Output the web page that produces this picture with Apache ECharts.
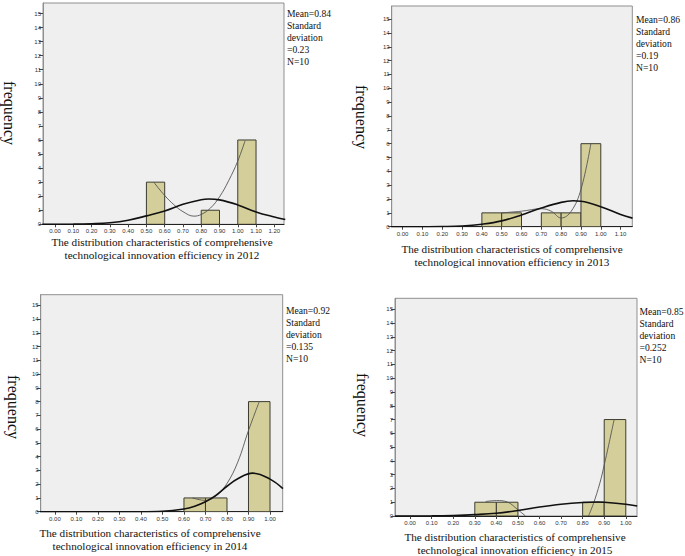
<!DOCTYPE html>
<html>
<head>
<meta charset="utf-8">
<script src="https://cdn.jsdelivr.net/npm/echarts@6/dist/echarts.min.js"></script>
<style>
html,body{margin:0;padding:0;background:#fff;}
#chart{width:685px;height:556px;}
</style>
</head>
<body>
<div id="chart"></div>
<script>
// ---- data ----
const yTicks = [0,1,2,3,4,5,6,7,8,9,10,11,12,13,14,15];
const xTicks2012 = [0,0.1,0.2,0.3,0.4,0.5,0.6,0.7,0.8,0.9,1.0,1.1,1.2];
const xTicks2013 = [0,0.1,0.2,0.3,0.4,0.5,0.6,0.7,0.8,0.9,1.0,1.1];
const xTicks2014 = [0,0.1,0.2,0.3,0.4,0.5,0.6,0.7,0.8,0.9,1.0];
const xTicks2015 = [0,0.1,0.2,0.3,0.4,0.5,0.6,0.7,0.8,0.9,1.0];

const binStart2012 = [0.5,0.8,1.0];
const binEnd2012   = [0.6,0.9,1.1];
const freq2012     = [3,1,6];
const binStart2013 = [0.4,0.5,0.7,0.8,0.9];
const binEnd2013   = [0.5,0.6,0.8,0.9,1.0];
const freq2013     = [1,1,1,1,6];
const binStart2014 = [0.6,0.7,0.9];
const binEnd2014   = [0.7,0.8,1.0];
const freq2014     = [1,1,8];
const binStart2015 = [0.3,0.4,0.8,0.9];
const binEnd2015   = [0.4,0.5,0.9,1.0];
const freq2015     = [1,1,1,7];

// normal curves
const normal2012 = [[-0.07,0],[0,0.004],[0.1,0.01],[0.2,0.04],[0.3,0.11],[0.4,0.29],[0.5,0.6],[0.6,0.95],[0.7,1.42],[0.8,1.75],[0.84,1.8],[0.9,1.74],[1.0,1.38],[1.1,0.88],[1.2,0.52],[1.26,0.34]];
const normal2013 = [[-0.06,0],[0.1,0],[0.2,0.01],[0.3,0.05],[0.4,0.18],[0.5,0.42],[0.6,0.85],[0.7,1.35],[0.8,1.76],[0.86,1.87],[0.9,1.84],[1.0,1.45],[1.1,0.88],[1.16,0.62]];
const normal2014 = [[-0.07,0],[0.4,0],[0.5,0.03],[0.6,0.2],[0.65,0.4],[0.7,0.72],[0.75,1.2],[0.8,1.85],[0.85,2.4],[0.92,2.8],[1.0,2.37],[1.06,1.68]];
const normal2015 = [[-0.07,0],[0.1,0.01],[0.2,0.04],[0.3,0.1],[0.4,0.2],[0.5,0.4],[0.6,0.65],[0.7,0.85],[0.8,0.98],[0.87,1.02],[0.9,1.0],[1.0,0.85],[1.053,0.73]];

// thin fitted curves
const fit2012 = [[0.54,3.0],[0.6,2.05],[0.65,1.4],[0.7,0.9],[0.76,0.58],[0.8,0.7],[0.85,1.15],[0.9,1.95],[0.95,3.1],[1.0,4.5],[1.04,5.95]];
const fit2013 = [[0.5,1.0],[0.6,1.12],[0.7,1.3],[0.75,1.12],[0.8,0.63],[0.85,1.1],[0.9,2.7],[0.95,6.0]];
const fit2014 = [[0.64,1.0],[0.7,0.82],[0.75,1.15],[0.8,2.05],[0.85,3.6],[0.9,5.9],[0.95,8.0]];
const fit2015a = [[0.35,1.05],[0.4,1.12],[0.45,1.02],[0.5,0.45],[0.535,0]];
const fit2015b = [[0.827,0],[0.85,0.9],[0.88,2.4],[0.9,3.7],[0.92,5.1],[0.946,7.0]];

const stats2012 = ['Mean=0.84','Standard','deviation','=0.23','N=10'];
const stats2013 = ['Mean=0.86','Standard','deviation','=0.19','N=10'];
const stats2014 = ['Mean=0.92','Standard','deviation','=0.135','N=10'];
const stats2015 = ['Mean=0.85','Standard','deviation','=0.252','N=10'];
const yTitle = 'frequency';
const xTitleLine1 = 'The distribution characteristics of comprehensive';
const xTitle2012 = 'technological innovation efficiency in 2012';
const xTitle2013 = 'technological innovation efficiency in 2013';
const xTitle2014 = 'technological innovation efficiency in 2014';
const xTitle2015 = 'technological innovation efficiency in 2015';

// ---- layout ----
const panels = [
  {grid:{left:43,top:3,width:241,height:221.3}, xmin:-0.066, xmax:1.253, ymax:15.75, ticks:xTicks2012,
   bs:binStart2012, be:binEnd2012, f:freq2012, normal:normal2012, fits:[fit2012], stats:stats2012,
   statX:287, statY:14, fx:9, fy:113, tx:162, ty:242, t2:xTitle2012},
  {grid:{left:391.7,top:6,width:240.6,height:220.7}, xmin:-0.055, xmax:1.159, ymax:15.95, ticks:xTicks2013,
   bs:binStart2013, be:binEnd2013, f:freq2013, normal:normal2013, fits:[fit2013], stats:stats2013,
   statX:636, statY:20, fx:361, fy:117, tx:512, ty:249, t2:xTitle2013},
  {grid:{left:40.7,top:294.7,width:242,height:217}, xmin:-0.066, xmax:1.059, ymax:15.77, ticks:xTicks2014,
   bs:binStart2014, be:binEnd2014, f:freq2014, normal:normal2014, fits:[fit2014], stats:stats2014,
   statX:286, statY:311, fx:13, fy:407, tx:150, ty:533, t2:xTitle2014},
  {grid:{left:395,top:298.3,width:242,height:217.7}, xmin:-0.07, xmax:1.052, ymax:15.8, ticks:xTicks2015,
   bs:binStart2015, be:binEnd2015, f:freq2015, normal:normal2015, fits:[fit2015a, fit2015b], stats:stats2015,
   statX:639.5, statY:312, fx:362, fy:405, tx:515, ty:537, t2:xTitle2015}
];

const grids=[], xAxes=[], yAxes=[], series=[], graphics=[];
const serif = '"Liberation Serif","Times New Roman",serif';
panels.forEach((p,i)=>{
  grids.push(Object.assign({show:true, backgroundColor:'#efefef', borderColor:'#8f8f8f', borderWidth:1, containLabel:false}, p.grid));
  xAxes.push({type:'value', gridIndex:i, min:p.xmin, max:p.xmax,
    axisLine:{show:true, onZero:false, lineStyle:{color:'#222', width:1}},
    axisTick:{show:true, length:3, customValues:p.ticks, lineStyle:{color:'#444'}},
    axisLabel:{show:true, customValues:p.ticks, fontSize:6, color:'#333', margin:4, fontFamily:'Arial, sans-serif',
      formatter:v=>v.toFixed(2)},
    splitLine:{show:false}});
  yAxes.push({type:'value', gridIndex:i, min:0, max:p.ymax,
    axisLine:{show:true, onZero:false, lineStyle:{color:'#8f8f8f'}},
    axisTick:{show:true, length:4, customValues:yTicks, lineStyle:{color:'#444'}},
    axisLabel:{show:true, customValues:yTicks, fontSize:6, color:'#333', margin:2, fontFamily:'Arial, sans-serif'},
    splitLine:{show:false}});
  const barData = p.f.map((c,k)=>[p.bs[k], p.be[k], c]);
  series.push({type:'custom', xAxisIndex:i, yAxisIndex:i, data:barData, clip:true,
    renderItem:(params, api)=>{
      const p0 = api.coord([api.value(0), api.value(2)]);
      const p1 = api.coord([api.value(1), 0]);
      return {type:'rect', shape:{x:p0[0], y:p0[1], width:p1[0]-p0[0], height:p1[1]-p0[1]},
        style:{fill:'#d4cf9a', stroke:'#3c3c30', lineWidth:1}};
    }});
  series.push({type:'line', xAxisIndex:i, yAxisIndex:i, data:p.normal, smooth:0.4, showSymbol:false, symbol:'none',
    clip:true, lineStyle:{color:'#111', width:1.6}, z:5});
  p.fits.forEach(ft=>{
    series.push({type:'line', xAxisIndex:i, yAxisIndex:i, data:ft, smooth:0.4, showSymbol:false, symbol:'none',
      clip:true, lineStyle:{color:'#555', width:0.9}, z:4});
  });
  p.stats.forEach((s,k)=>{
    graphics.push({type:'text', left:p.statX, top:p.statY + k*12 - 6,
      style:{text:s, font:'9.6px '+serif, fill:'#111'}});
  });
  graphics.push({type:'text', x:p.fx, y:p.fy, rotation:-Math.PI/2,
    style:{text:yTitle, font:'16px '+serif, fill:'#111', align:'center', verticalAlign:'middle'}});
  graphics.push({type:'text', x:p.tx, y:p.ty,
    style:{text:xTitleLine1, font:'11.2px '+serif, fill:'#111', align:'center', verticalAlign:'middle'}});
  graphics.push({type:'text', x:p.tx, y:p.ty+12.5,
    style:{text:p.t2, font:'11.2px '+serif, fill:'#111', align:'center', verticalAlign:'middle'}});
});

const chart = echarts.init(document.getElementById('chart'), null, {renderer:'svg', width:685, height:556});
chart.setOption({
  animation:false,
  backgroundColor:'#fff',
  grid:grids, xAxis:xAxes, yAxis:yAxes, series:series, graphic:graphics
});
</script>
</body>
</html>
